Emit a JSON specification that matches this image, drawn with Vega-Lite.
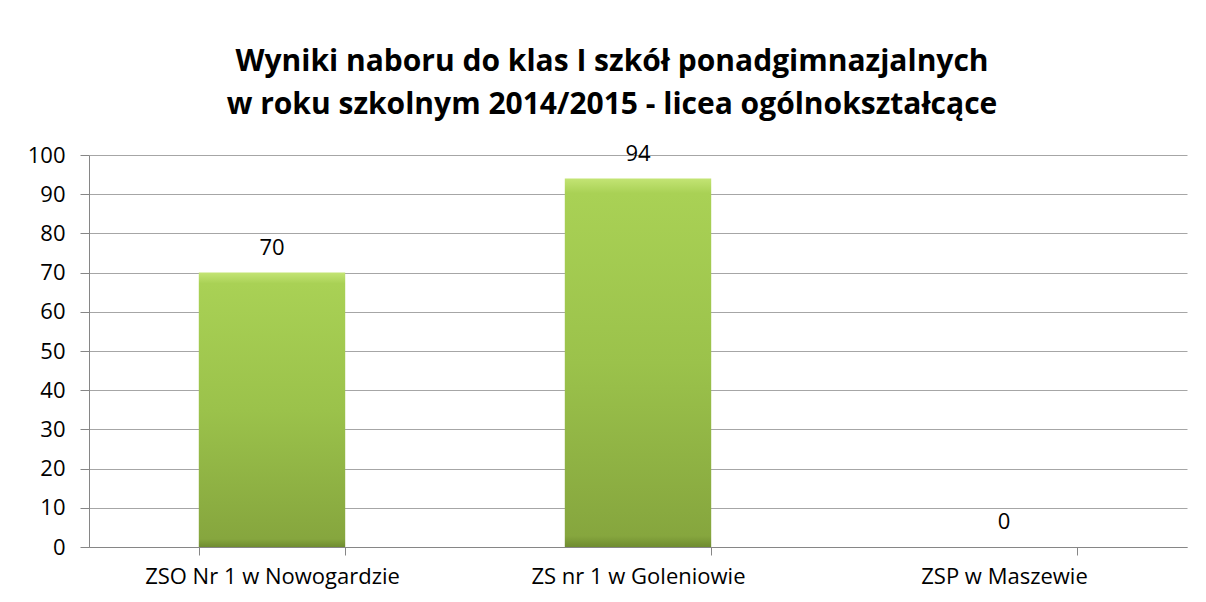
{
  "$schema": "https://vega.github.io/schema/vega-lite/v6.json",
  "autosize": {"type": "none"},
  "width": 1098,
  "height": 392,
  "padding": {"left": 89, "top": 155, "right": 19, "bottom": 55},
  "background": "white",
  "title": {
    "text": ["Wyniki naboru do klas I szkół ponadgimnazjalnych", "w roku szkolnym 2014/2015 - licea ogólnokształcące"],
    "font": "Open Sans",
    "fontSize": 30,
    "fontWeight": "bold",
    "color": "#000000",
    "lineHeight": 43,
    "anchor": "middle",
    "dx": -26,
    "offset": 23
  },
  "data": {
    "values": [
      {"szkola": "ZSO Nr 1 w Nowogardzie", "liczba": 70},
      {"szkola": "ZS nr 1 w Goleniowie", "liczba": 94},
      {"szkola": "ZSP w Maszewie", "liczba": 0}
    ]
  },
  "encoding": {
    "x": {
      "field": "szkola",
      "type": "nominal",
      "sort": null,
      "scale": {"paddingInner": 0.6, "paddingOuter": 0.3},
      "axis": {
        "title": null,
        "labelAngle": 0,
        "labelFont": "Open Sans",
        "labelFontSize": 22,
        "labelColor": "#000000",
        "labelPadding": 11,
        "labelLimit": 400,
        "domainColor": "#868686",
        "tickColor": "#868686",
        "tickSize": 8,
        "tickBand": "extent",
        "grid": false
      }
    },
    "y": {
      "field": "liczba",
      "type": "quantitative",
      "scale": {"domain": [0, 100], "nice": false},
      "axis": {
        "title": null,
        "values": [0, 10, 20, 30, 40, 50, 60, 70, 80, 90, 100],
        "labelFont": "Open Sans",
        "labelFontSize": 22,
        "labelColor": "#000000",
        "labelPadding": 15,
        "domainColor": "#868686",
        "tickColor": "#868686",
        "tickSize": 9,
        "gridColor": "#a6a6a6",
        "gridWidth": 1
      }
    }
  },
  "layer": [
    {
      "mark": {
        "type": "bar",
        "color": {
          "gradient": "linear",
          "x1": 0, "y1": 0, "x2": 0, "y2": 1,
          "stops": [
            {"offset": 0, "color": "#c3e474"},
            {"offset": 0.04, "color": "#a9d155"},
            {"offset": 0.5, "color": "#9bc24b"},
            {"offset": 0.97, "color": "#86a63e"},
            {"offset": 1, "color": "#6f8c30"}
          ]
        }
      }
    },
    {
      "mark": {
        "type": "text",
        "baseline": "bottom",
        "dy": -13,
        "font": "Open Sans",
        "fontSize": 22,
        "color": "#000000"
      },
      "encoding": {"text": {"field": "liczba", "type": "quantitative"}}
    }
  ],
  "config": {"view": {"stroke": null}}
}
